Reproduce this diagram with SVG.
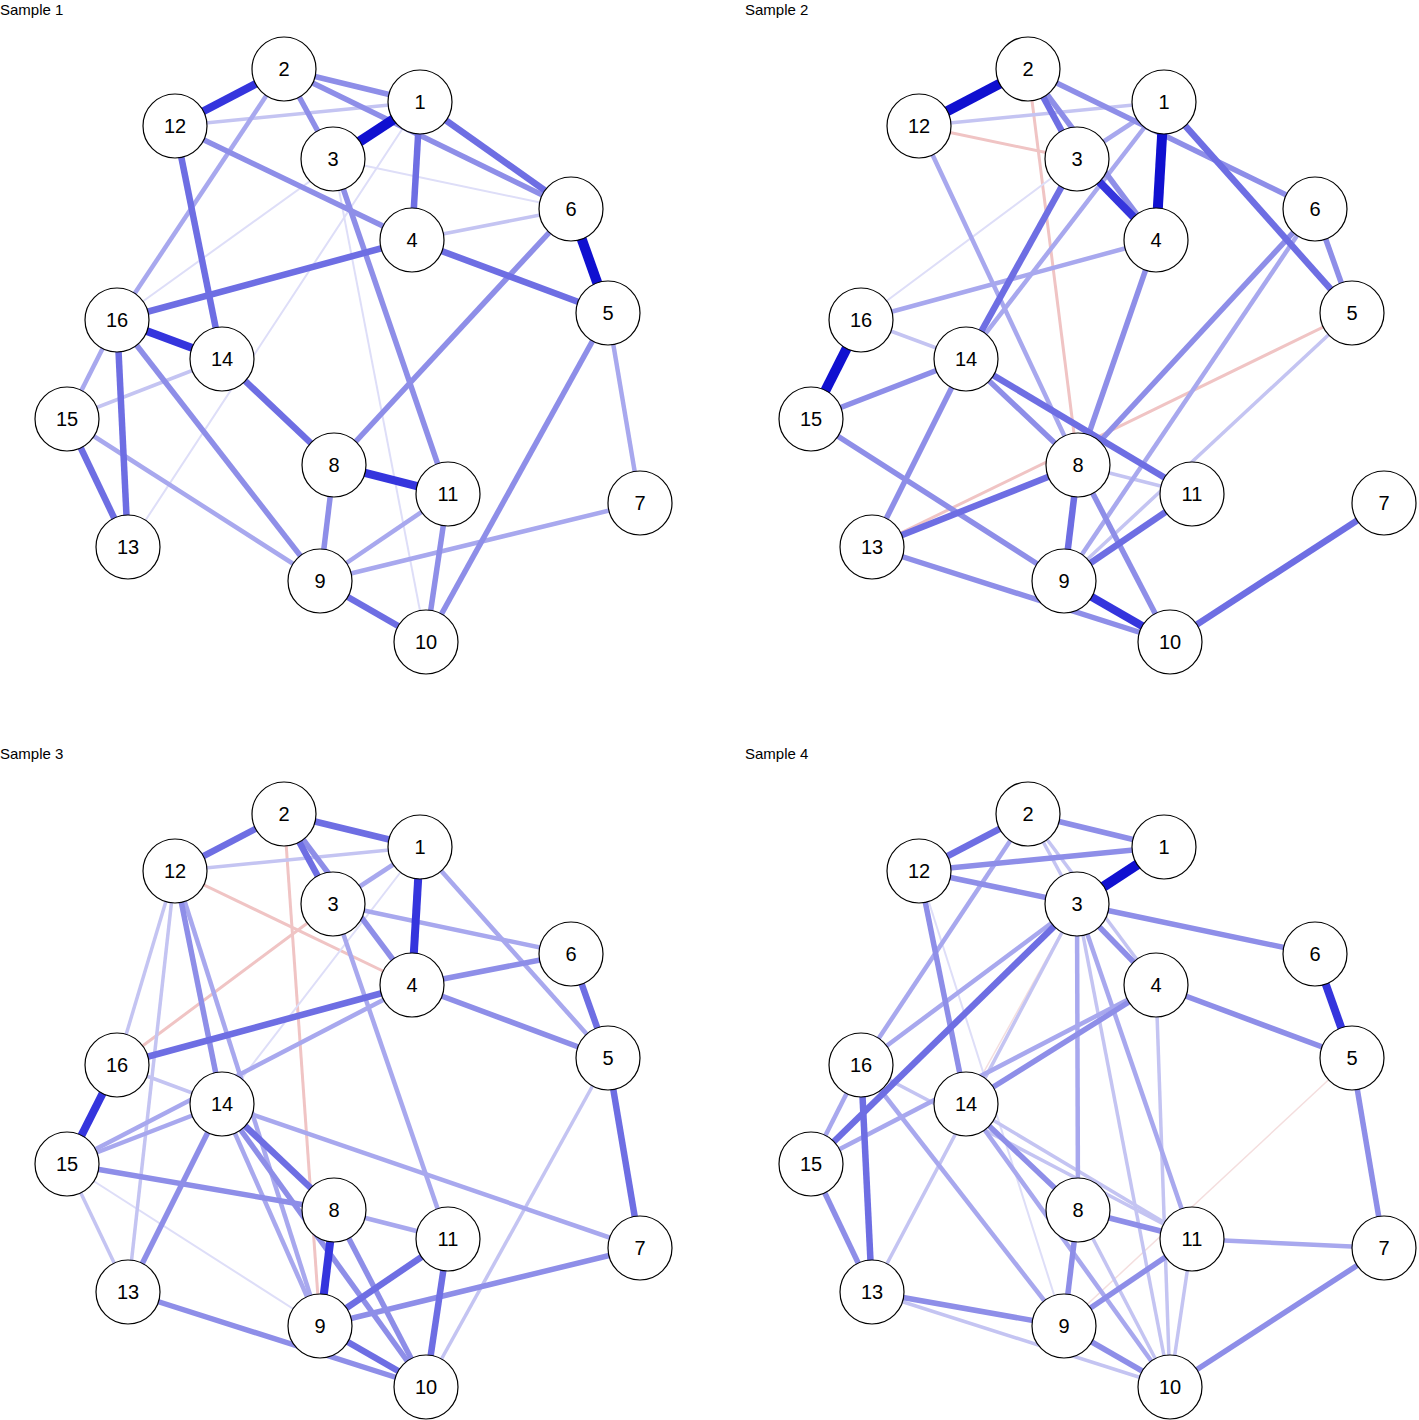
<svg xmlns="http://www.w3.org/2000/svg" width="1419" height="1420" viewBox="0 0 1419 1420">
<style>
line{stroke-linecap:butt}
.n circle{fill:#fff;stroke:#000;stroke-width:1.2}
.n text,.t{font-family:"Liberation Sans",Arial,sans-serif;font-size:20px;text-anchor:middle;dominant-baseline:central;fill:#000}
.t{font-size:15px;text-anchor:start;dominant-baseline:auto}
.k1{stroke:#1010d0;stroke-width:10}
.k2{stroke:#3535dd;stroke-width:8}
.k3{stroke:#6e6ee3;stroke-width:6.5}
.k4{stroke:#8e8ee8;stroke-width:5.5}
.k5{stroke:#a8a8ee;stroke-width:4.5}
.k6{stroke:#c4c4f2;stroke-width:3.5}
.k7{stroke:#dedef8;stroke-width:2}
.r{stroke:#f0c4c4;stroke-width:3}
.r2{stroke:#f4dede;stroke-width:1.5}
</style>
<rect width="1419" height="1420" fill="#fff"/>
<text class="t" x="0" y="15">Sample 1</text>
<text class="t" x="745" y="15">Sample 2</text>
<text class="t" x="0" y="759">Sample 3</text>
<text class="t" x="745" y="759">Sample 4</text>

<g id="connectors">
<g id="edges-s1">
<line class="k7" x1="333" y1="159" x2="426" y2="642"/>
<line class="k7" x1="420" y1="102" x2="128" y2="547"/>
<line class="k7" x1="420" y1="102" x2="117" y2="320"/>
<line class="k7" x1="333" y1="159" x2="571" y2="209"/>
<line class="k6" x1="175" y1="126" x2="420" y2="102"/>
<line class="k6" x1="412" y1="240" x2="571" y2="209"/>
<line class="k6" x1="222" y1="359" x2="67" y2="419"/>
<line class="k5" x1="608" y1="313" x2="640" y2="503"/>
<line class="k5" x1="320" y1="581" x2="640" y2="503"/>
<line class="k5" x1="320" y1="581" x2="448" y2="494"/>
<line class="k5" x1="67" y1="419" x2="320" y2="581"/>
<line class="k5" x1="284" y1="69" x2="117" y2="320"/>
<line class="k5" x1="117" y1="320" x2="67" y2="419"/>
<line class="k4" x1="284" y1="69" x2="420" y2="102"/>
<line class="k4" x1="284" y1="69" x2="571" y2="209"/>
<line class="k4" x1="284" y1="69" x2="333" y2="159"/>
<line class="k4" x1="175" y1="126" x2="412" y2="240"/>
<line class="k4" x1="333" y1="159" x2="448" y2="494"/>
<line class="k4" x1="571" y1="209" x2="334" y2="465"/>
<line class="k4" x1="608" y1="313" x2="426" y2="642"/>
<line class="k4" x1="117" y1="320" x2="320" y2="581"/>
<line class="k4" x1="334" y1="465" x2="320" y2="581"/>
<line class="k4" x1="448" y1="494" x2="426" y2="642"/>
<line class="k3" x1="420" y1="102" x2="412" y2="240"/>
<line class="k3" x1="420" y1="102" x2="571" y2="209"/>
<line class="k3" x1="175" y1="126" x2="222" y2="359"/>
<line class="k3" x1="412" y1="240" x2="117" y2="320"/>
<line class="k3" x1="412" y1="240" x2="608" y2="313"/>
<line class="k3" x1="117" y1="320" x2="128" y2="547"/>
<line class="k3" x1="67" y1="419" x2="128" y2="547"/>
<line class="k3" x1="222" y1="359" x2="334" y2="465"/>
<line class="k3" x1="320" y1="581" x2="426" y2="642"/>
<line class="k2" x1="284" y1="69" x2="175" y2="126"/>
<line class="k2" x1="117" y1="320" x2="222" y2="359"/>
<line class="k2" x1="334" y1="465" x2="448" y2="494"/>
<line class="k1" x1="420" y1="102" x2="333" y2="159"/>
<line class="k1" x1="571" y1="209" x2="608" y2="313"/>
</g>
<g id="edges-s2" transform="translate(744,0)">
<line class="r" x1="284" y1="69" x2="334" y2="465"/>
<line class="r" x1="175" y1="126" x2="333" y2="159"/>
<line class="r" x1="128" y1="547" x2="608" y2="313"/>
<line class="r2" x1="117" y1="320" x2="222" y2="359"/>
<line class="k7" x1="333" y1="159" x2="117" y2="320"/>
<line class="k6" x1="175" y1="126" x2="420" y2="102"/>
<line class="k6" x1="334" y1="465" x2="448" y2="494"/>
<line class="k6" x1="320" y1="581" x2="608" y2="313"/>
<line class="k6" x1="117" y1="320" x2="222" y2="359"/>
<line class="k5" x1="175" y1="126" x2="334" y2="465"/>
<line class="k5" x1="420" y1="102" x2="333" y2="159"/>
<line class="k5" x1="420" y1="102" x2="222" y2="359"/>
<line class="k5" x1="412" y1="240" x2="117" y2="320"/>
<line class="k5" x1="571" y1="209" x2="320" y2="581"/>
<line class="k4" x1="284" y1="69" x2="412" y2="240"/>
<line class="k4" x1="284" y1="69" x2="571" y2="209"/>
<line class="k4" x1="571" y1="209" x2="608" y2="313"/>
<line class="k4" x1="571" y1="209" x2="334" y2="465"/>
<line class="k4" x1="412" y1="240" x2="334" y2="465"/>
<line class="k4" x1="67" y1="419" x2="222" y2="359"/>
<line class="k4" x1="67" y1="419" x2="320" y2="581"/>
<line class="k4" x1="222" y1="359" x2="334" y2="465"/>
<line class="k4" x1="222" y1="359" x2="128" y2="547"/>
<line class="k4" x1="128" y1="547" x2="426" y2="642"/>
<line class="k4" x1="334" y1="465" x2="426" y2="642"/>
<line class="k3" x1="284" y1="69" x2="333" y2="159"/>
<line class="k3" x1="333" y1="159" x2="222" y2="359"/>
<line class="k3" x1="420" y1="102" x2="608" y2="313"/>
<line class="k3" x1="222" y1="359" x2="448" y2="494"/>
<line class="k3" x1="128" y1="547" x2="334" y2="465"/>
<line class="k3" x1="334" y1="465" x2="320" y2="581"/>
<line class="k3" x1="426" y1="642" x2="640" y2="503"/>
<line class="k3" x1="320" y1="581" x2="448" y2="494"/>
<line class="k2" x1="333" y1="159" x2="412" y2="240"/>
<line class="k2" x1="320" y1="581" x2="426" y2="642"/>
<line class="k1" x1="284" y1="69" x2="175" y2="126"/>
<line class="k1" x1="420" y1="102" x2="412" y2="240"/>
<line class="k1" x1="117" y1="320" x2="67" y2="419"/>
</g>
<g id="edges-s3" transform="translate(0,745)">
<line class="r" x1="284" y1="69" x2="320" y2="581"/>
<line class="r" x1="175" y1="126" x2="412" y2="240"/>
<line class="r" x1="333" y1="159" x2="117" y2="320"/>
<line class="k7" x1="420" y1="102" x2="222" y2="359"/>
<line class="k7" x1="67" y1="419" x2="320" y2="581"/>
<line class="k6" x1="175" y1="126" x2="420" y2="102"/>
<line class="k6" x1="175" y1="126" x2="117" y2="320"/>
<line class="k6" x1="175" y1="126" x2="128" y2="547"/>
<line class="k6" x1="608" y1="313" x2="426" y2="642"/>
<line class="k6" x1="117" y1="320" x2="222" y2="359"/>
<line class="k6" x1="67" y1="419" x2="128" y2="547"/>
<line class="k5" x1="420" y1="102" x2="333" y2="159"/>
<line class="k5" x1="420" y1="102" x2="608" y2="313"/>
<line class="k5" x1="333" y1="159" x2="571" y2="209"/>
<line class="k5" x1="333" y1="159" x2="448" y2="494"/>
<line class="k5" x1="412" y1="240" x2="67" y2="419"/>
<line class="k5" x1="175" y1="126" x2="320" y2="581"/>
<line class="k5" x1="222" y1="359" x2="67" y2="419"/>
<line class="k5" x1="222" y1="359" x2="320" y2="581"/>
<line class="k5" x1="222" y1="359" x2="640" y2="503"/>
<line class="k5" x1="334" y1="465" x2="448" y2="494"/>
<line class="k4" x1="284" y1="69" x2="412" y2="240"/>
<line class="k4" x1="175" y1="126" x2="222" y2="359"/>
<line class="k4" x1="412" y1="240" x2="571" y2="209"/>
<line class="k4" x1="412" y1="240" x2="608" y2="313"/>
<line class="k4" x1="67" y1="419" x2="334" y2="465"/>
<line class="k4" x1="222" y1="359" x2="128" y2="547"/>
<line class="k4" x1="222" y1="359" x2="426" y2="642"/>
<line class="k4" x1="334" y1="465" x2="426" y2="642"/>
<line class="k4" x1="320" y1="581" x2="640" y2="503"/>
<line class="k4" x1="128" y1="547" x2="426" y2="642"/>
<line class="k3" x1="284" y1="69" x2="175" y2="126"/>
<line class="k3" x1="284" y1="69" x2="420" y2="102"/>
<line class="k3" x1="284" y1="69" x2="333" y2="159"/>
<line class="k3" x1="412" y1="240" x2="117" y2="320"/>
<line class="k3" x1="608" y1="313" x2="640" y2="503"/>
<line class="k3" x1="222" y1="359" x2="334" y2="465"/>
<line class="k3" x1="320" y1="581" x2="426" y2="642"/>
<line class="k3" x1="448" y1="494" x2="320" y2="581"/>
<line class="k3" x1="448" y1="494" x2="426" y2="642"/>
<line class="k3" x1="571" y1="209" x2="608" y2="313"/>
<line class="k2" x1="420" y1="102" x2="412" y2="240"/>
<line class="k2" x1="117" y1="320" x2="67" y2="419"/>
<line class="k2" x1="334" y1="465" x2="320" y2="581"/>
</g>
<g id="edges-s4" transform="translate(744,745)">
<line class="r2" x1="333" y1="159" x2="222" y2="359"/>
<line class="r2" x1="608" y1="313" x2="320" y2="581"/>
<line class="k7" x1="175" y1="126" x2="320" y2="581"/>
<line class="k6" x1="284" y1="69" x2="333" y2="159"/>
<line class="k6" x1="284" y1="69" x2="412" y2="240"/>
<line class="k6" x1="333" y1="159" x2="426" y2="642"/>
<line class="k6" x1="333" y1="159" x2="128" y2="547"/>
<line class="k6" x1="412" y1="240" x2="426" y2="642"/>
<line class="k6" x1="117" y1="320" x2="448" y2="494"/>
<line class="k6" x1="222" y1="359" x2="448" y2="494"/>
<line class="k6" x1="334" y1="465" x2="426" y2="642"/>
<line class="k6" x1="448" y1="494" x2="426" y2="642"/>
<line class="k6" x1="128" y1="547" x2="426" y2="642"/>
<line class="k5" x1="284" y1="69" x2="117" y2="320"/>
<line class="k5" x1="333" y1="159" x2="117" y2="320"/>
<line class="k5" x1="333" y1="159" x2="334" y2="465"/>
<line class="k5" x1="333" y1="159" x2="448" y2="494"/>
<line class="k5" x1="412" y1="240" x2="67" y2="419"/>
<line class="k5" x1="117" y1="320" x2="67" y2="419"/>
<line class="k5" x1="117" y1="320" x2="320" y2="581"/>
<line class="k5" x1="222" y1="359" x2="426" y2="642"/>
<line class="k5" x1="448" y1="494" x2="640" y2="503"/>
<line class="k4" x1="284" y1="69" x2="420" y2="102"/>
<line class="k4" x1="175" y1="126" x2="420" y2="102"/>
<line class="k4" x1="175" y1="126" x2="333" y2="159"/>
<line class="k4" x1="175" y1="126" x2="222" y2="359"/>
<line class="k4" x1="333" y1="159" x2="571" y2="209"/>
<line class="k4" x1="333" y1="159" x2="412" y2="240"/>
<line class="k4" x1="412" y1="240" x2="608" y2="313"/>
<line class="k4" x1="412" y1="240" x2="222" y2="359"/>
<line class="k4" x1="608" y1="313" x2="640" y2="503"/>
<line class="k4" x1="67" y1="419" x2="128" y2="547"/>
<line class="k4" x1="222" y1="359" x2="334" y2="465"/>
<line class="k4" x1="334" y1="465" x2="448" y2="494"/>
<line class="k4" x1="334" y1="465" x2="320" y2="581"/>
<line class="k4" x1="448" y1="494" x2="320" y2="581"/>
<line class="k4" x1="128" y1="547" x2="320" y2="581"/>
<line class="k4" x1="426" y1="642" x2="640" y2="503"/>
<line class="k4" x1="320" y1="581" x2="426" y2="642"/>
<line class="k3" x1="284" y1="69" x2="175" y2="126"/>
<line class="k3" x1="333" y1="159" x2="67" y2="419"/>
<line class="k3" x1="117" y1="320" x2="128" y2="547"/>
<line class="k2" x1="571" y1="209" x2="608" y2="313"/>
<line class="k1" x1="420" y1="102" x2="333" y2="159"/>
</g>
</g>

<g id="nodes-s1" class="n">
<g id="s1-n1"><circle cx="420" cy="102" r="32"/><text x="420" y="102">1</text></g>
<g id="s1-n2"><circle cx="284" cy="69" r="32"/><text x="284" y="69">2</text></g>
<g id="s1-n3"><circle cx="333" cy="159" r="32"/><text x="333" y="159">3</text></g>
<g id="s1-n4"><circle cx="412" cy="240" r="32"/><text x="412" y="240">4</text></g>
<g id="s1-n5"><circle cx="608" cy="313" r="32"/><text x="608" y="313">5</text></g>
<g id="s1-n6"><circle cx="571" cy="209" r="32"/><text x="571" y="209">6</text></g>
<g id="s1-n7"><circle cx="640" cy="503" r="32"/><text x="640" y="503">7</text></g>
<g id="s1-n8"><circle cx="334" cy="465" r="32"/><text x="334" y="465">8</text></g>
<g id="s1-n9"><circle cx="320" cy="581" r="32"/><text x="320" y="581">9</text></g>
<g id="s1-n10"><circle cx="426" cy="642" r="32"/><text x="426" y="642">10</text></g>
<g id="s1-n11"><circle cx="448" cy="494" r="32"/><text x="448" y="494">11</text></g>
<g id="s1-n12"><circle cx="175" cy="126" r="32"/><text x="175" y="126">12</text></g>
<g id="s1-n13"><circle cx="128" cy="547" r="32"/><text x="128" y="547">13</text></g>
<g id="s1-n14"><circle cx="222" cy="359" r="32"/><text x="222" y="359">14</text></g>
<g id="s1-n15"><circle cx="67" cy="419" r="32"/><text x="67" y="419">15</text></g>
<g id="s1-n16"><circle cx="117" cy="320" r="32"/><text x="117" y="320">16</text></g>
</g>
<g id="nodes-s2" class="n" transform="translate(744,0)">
<g id="s2-n1"><circle cx="420" cy="102" r="32"/><text x="420" y="102">1</text></g>
<g id="s2-n2"><circle cx="284" cy="69" r="32"/><text x="284" y="69">2</text></g>
<g id="s2-n3"><circle cx="333" cy="159" r="32"/><text x="333" y="159">3</text></g>
<g id="s2-n4"><circle cx="412" cy="240" r="32"/><text x="412" y="240">4</text></g>
<g id="s2-n5"><circle cx="608" cy="313" r="32"/><text x="608" y="313">5</text></g>
<g id="s2-n6"><circle cx="571" cy="209" r="32"/><text x="571" y="209">6</text></g>
<g id="s2-n7"><circle cx="640" cy="503" r="32"/><text x="640" y="503">7</text></g>
<g id="s2-n8"><circle cx="334" cy="465" r="32"/><text x="334" y="465">8</text></g>
<g id="s2-n9"><circle cx="320" cy="581" r="32"/><text x="320" y="581">9</text></g>
<g id="s2-n10"><circle cx="426" cy="642" r="32"/><text x="426" y="642">10</text></g>
<g id="s2-n11"><circle cx="448" cy="494" r="32"/><text x="448" y="494">11</text></g>
<g id="s2-n12"><circle cx="175" cy="126" r="32"/><text x="175" y="126">12</text></g>
<g id="s2-n13"><circle cx="128" cy="547" r="32"/><text x="128" y="547">13</text></g>
<g id="s2-n14"><circle cx="222" cy="359" r="32"/><text x="222" y="359">14</text></g>
<g id="s2-n15"><circle cx="67" cy="419" r="32"/><text x="67" y="419">15</text></g>
<g id="s2-n16"><circle cx="117" cy="320" r="32"/><text x="117" y="320">16</text></g>
</g>
<g id="nodes-s3" class="n" transform="translate(0,745)">
<g id="s3-n1"><circle cx="420" cy="102" r="32"/><text x="420" y="102">1</text></g>
<g id="s3-n2"><circle cx="284" cy="69" r="32"/><text x="284" y="69">2</text></g>
<g id="s3-n3"><circle cx="333" cy="159" r="32"/><text x="333" y="159">3</text></g>
<g id="s3-n4"><circle cx="412" cy="240" r="32"/><text x="412" y="240">4</text></g>
<g id="s3-n5"><circle cx="608" cy="313" r="32"/><text x="608" y="313">5</text></g>
<g id="s3-n6"><circle cx="571" cy="209" r="32"/><text x="571" y="209">6</text></g>
<g id="s3-n7"><circle cx="640" cy="503" r="32"/><text x="640" y="503">7</text></g>
<g id="s3-n8"><circle cx="334" cy="465" r="32"/><text x="334" y="465">8</text></g>
<g id="s3-n9"><circle cx="320" cy="581" r="32"/><text x="320" y="581">9</text></g>
<g id="s3-n10"><circle cx="426" cy="642" r="32"/><text x="426" y="642">10</text></g>
<g id="s3-n11"><circle cx="448" cy="494" r="32"/><text x="448" y="494">11</text></g>
<g id="s3-n12"><circle cx="175" cy="126" r="32"/><text x="175" y="126">12</text></g>
<g id="s3-n13"><circle cx="128" cy="547" r="32"/><text x="128" y="547">13</text></g>
<g id="s3-n14"><circle cx="222" cy="359" r="32"/><text x="222" y="359">14</text></g>
<g id="s3-n15"><circle cx="67" cy="419" r="32"/><text x="67" y="419">15</text></g>
<g id="s3-n16"><circle cx="117" cy="320" r="32"/><text x="117" y="320">16</text></g>
</g>
<g id="nodes-s4" class="n" transform="translate(744,745)">
<g id="s4-n1"><circle cx="420" cy="102" r="32"/><text x="420" y="102">1</text></g>
<g id="s4-n2"><circle cx="284" cy="69" r="32"/><text x="284" y="69">2</text></g>
<g id="s4-n3"><circle cx="333" cy="159" r="32"/><text x="333" y="159">3</text></g>
<g id="s4-n4"><circle cx="412" cy="240" r="32"/><text x="412" y="240">4</text></g>
<g id="s4-n5"><circle cx="608" cy="313" r="32"/><text x="608" y="313">5</text></g>
<g id="s4-n6"><circle cx="571" cy="209" r="32"/><text x="571" y="209">6</text></g>
<g id="s4-n7"><circle cx="640" cy="503" r="32"/><text x="640" y="503">7</text></g>
<g id="s4-n8"><circle cx="334" cy="465" r="32"/><text x="334" y="465">8</text></g>
<g id="s4-n9"><circle cx="320" cy="581" r="32"/><text x="320" y="581">9</text></g>
<g id="s4-n10"><circle cx="426" cy="642" r="32"/><text x="426" y="642">10</text></g>
<g id="s4-n11"><circle cx="448" cy="494" r="32"/><text x="448" y="494">11</text></g>
<g id="s4-n12"><circle cx="175" cy="126" r="32"/><text x="175" y="126">12</text></g>
<g id="s4-n13"><circle cx="128" cy="547" r="32"/><text x="128" y="547">13</text></g>
<g id="s4-n14"><circle cx="222" cy="359" r="32"/><text x="222" y="359">14</text></g>
<g id="s4-n15"><circle cx="67" cy="419" r="32"/><text x="67" y="419">15</text></g>
<g id="s4-n16"><circle cx="117" cy="320" r="32"/><text x="117" y="320">16</text></g>
</g>
</svg>
